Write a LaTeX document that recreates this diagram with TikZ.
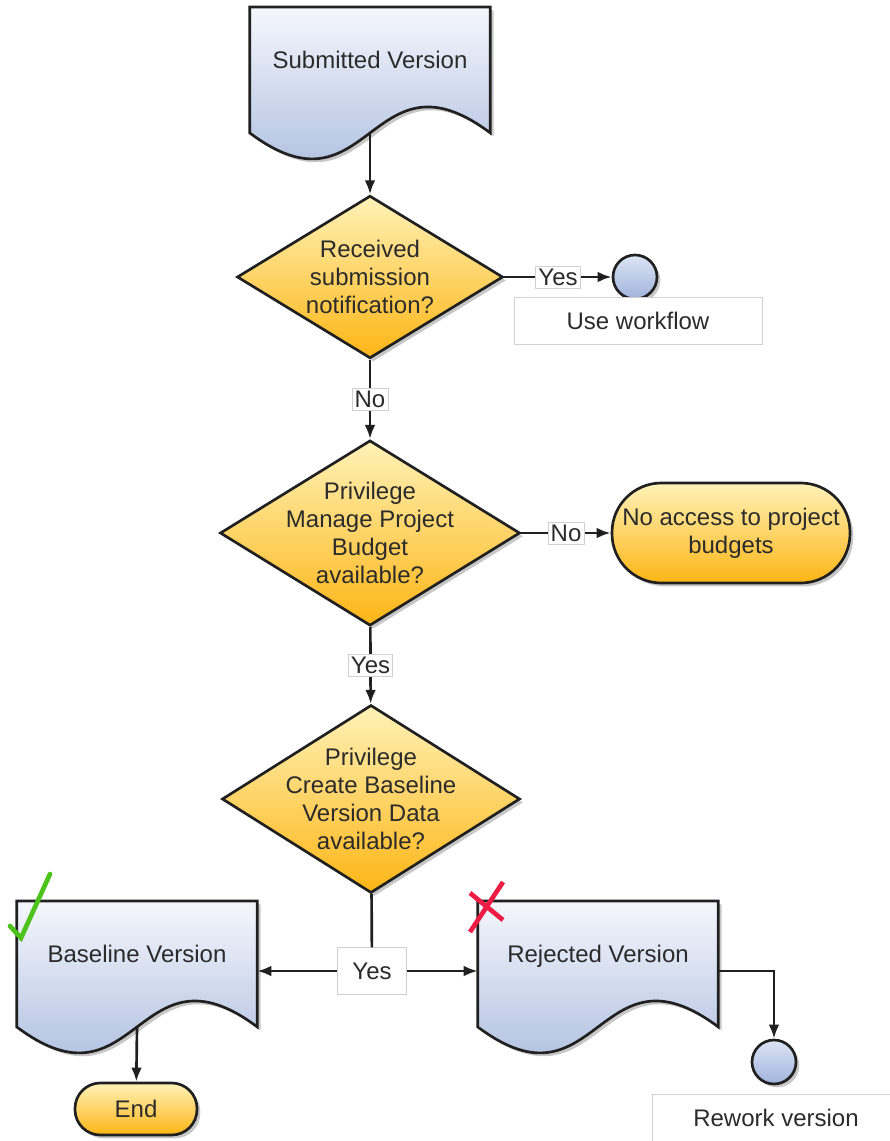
\documentclass[tikz,border=0pt]{standalone}
\usepackage{fontspec}
\setmainfont{Liberation Sans}
\usetikzlibrary{shapes.geometric,shadows,calc,arrows.meta}
\definecolor{txtgray}{HTML}{2B2B2B}
\definecolor{linegray}{HTML}{202020}
\definecolor{docTop}{HTML}{F5F7FC}
\definecolor{docBot}{HTML}{9AAFD8}
\definecolor{decTop}{HTML}{FFF2B8}
\definecolor{decBot}{HTML}{FDB515}
\definecolor{dotTop}{HTML}{DDE5F5}
\definecolor{dotBot}{HTML}{9FB3DC}
\definecolor{boxgray}{HTML}{D0D0D0}
\definecolor{tickgreen}{HTML}{4CC21A}
\definecolor{crossred}{HTML}{EC1C45}
\pgfdeclarelayer{background}
\pgfsetlayers{background,main}
% document outline with wavy bottom, drawn behind the node
\newcommand{\docshape}[1]{%
  \begin{pgfonlayer}{background}
    \path[docfill] (#1.north west) -- (#1.north east) -- (#1.south east)
      .. controls ($(#1.south east)+(-120,-90)$) and ($(#1.south west)+(120,90)$) .. (#1.south west) -- cycle;
  \end{pgfonlayer}}
\begin{document}
\begin{tikzpicture}[x=0.75pt, y=-0.75pt, >={Latex[length=10.5pt,width=8pt]}]
  \tikzset{txt/.style={font=\fontsize{18}{21}\selectfont, text=txtgray, align=center},
    shadowed/.style={drop shadow={shadow xshift=2.5pt, shadow yshift=-2.5pt, opacity=.22, fill=black}},
    doc/.style={txt, rectangle, minimum width=180pt, minimum height=94pt, text depth=15pt, inner sep=0pt},
    docfill/.style={draw=linegray, line width=2pt, top color=docTop, bottom color=docBot, shadowed},
    decision/.style={txt, diamond, draw=linegray, line width=2pt, top color=decTop, bottom color=decBot, inner sep=-3cm, shadowed},
    stopbox/.style={txt, rectangle, draw=linegray, line width=2pt, top color=decTop, bottom color=decBot, inner sep=0pt, shadowed},
    dot/.style={circle, draw=linegray, line width=2pt, top color=dotTop, bottom color=dotBot, minimum size=33pt, inner sep=0pt, shadowed},
    note/.style={txt, draw=boxgray, line width=.6pt, fill=white, minimum width=186pt, minimum height=35pt, inner sep=0pt},
    tag/.style={txt, draw=boxgray, line width=.5pt, fill=white, inner sep=2pt},
    flow/.style={->, line width=2pt, draw=linegray}}
  \useasboundingbox (0,0) rectangle (889,1141);
%% Shapes
  \node[doc] (sv) at (370,70) {Submitted Version};
  \node[decision, minimum width=199.5pt, minimum height=122pt] (q1) at (370,277) {Received\\submission\\notification?};
  \node[dot] (c1) at (635,277) {};
  \node[note] (uw) at (638,321) {Use workflow};
  \node[decision, minimum width=225pt, minimum height=139pt] (q2) at (370,533) {Privilege\\Manage Project\\Budget\\available?};
  \node[stopbox, minimum width=178.5pt, minimum height=75pt, rounded corners=37pt] (na) at (731,533) {No access to project\\budgets};
  \node[decision, minimum width=223.5pt, minimum height=141pt] (q3) at (371,799) {Privilege\\Create Baseline\\Version Data\\available?};
  \node[doc] (bv) at (137,964) {Baseline Version};
  \node[doc] (rv) at (598,964) {Rejected Version};
  \node[tag, minimum width=52pt, minimum height=35pt] (yb) at (372,971) {Yes};
  \node[stopbox, minimum width=91.5pt, minimum height=39pt, rounded corners=19pt] (finish) at (136,1109) {End};
  \node[dot] (c2) at (774,1062) {};
  \node[note] (rw) at (776,1118) {Rework version};
  \docshape{sv}
  \docshape{bv}
  \docshape{rv}
%% Marks
  \draw[tickgreen, line width=3.5pt, line cap=round] (10,926) -- (21,938) -- (50,874);
  \draw[crossred, line width=3.5pt] (470,893) -- (503,920) (503,882) -- (470,932);
%Edges
  \draw[flow] (sv.south) -- (q1);
  \path[flow] (q1) edge node[tag] {Yes} (c1);
  \path[flow] (q1) edge node[tag] {No} (q2);
  \path[flow] (q2) edge node[tag] {No} (na);
  \path[flow] (q2) edge node[tag] {Yes} (q3);
  \draw[line width=2pt, draw=linegray] (q3) -- (yb);
  \draw[flow] (yb) -- (yb -| bv.east);
  \draw[flow] (yb) -- (yb -| rv.west);
  \draw[flow] (yb -| rv.east) -| (c2);
  \draw[flow] (bv.south) -- (finish);
\end{tikzpicture}
\end{document}
